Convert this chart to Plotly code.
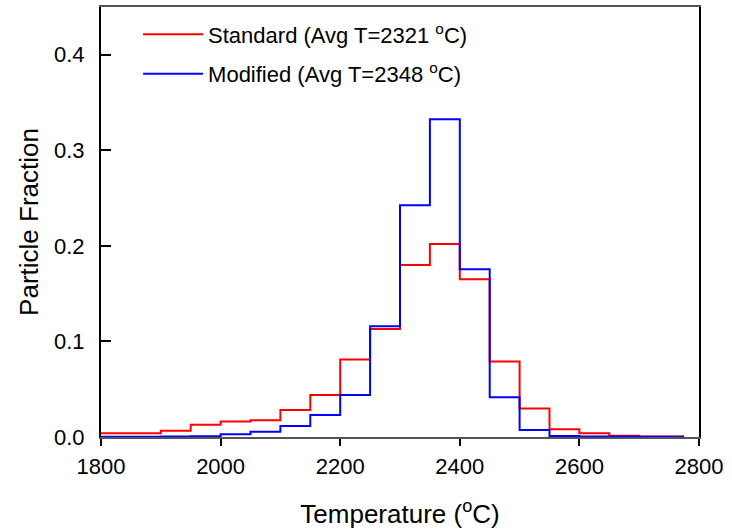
import plotly.graph_objects as go

# Bin centres (°C); steps occur at the 50 °C bin edges
temperature = [1775, 1825, 1875, 1925, 1975, 2025, 2075, 2125, 2175, 2225, 2275,
               2325, 2375, 2425, 2475, 2525, 2575, 2625, 2675, 2725, 2775]
standard = [0.0038, 0.0038, 0.0040, 0.0066, 0.0128, 0.0163, 0.0175, 0.0282, 0.0440, 0.0810, 0.1130,
            0.1800, 0.2020, 0.1650, 0.0790, 0.0297, 0.0080, 0.0040, 0.0012, 0.0006, 0.0004]
modified = [0.0002, 0.0002, 0.0003, 0.0005, 0.0008, 0.0030, 0.0056, 0.0115, 0.0230, 0.0440, 0.1160,
            0.2425, 0.3325, 0.1755, 0.0415, 0.0073, 0.0010, 0.0005, 0.0004, 0.0003, 0.0002]
names = ["Standard (Avg T=2321 <sup>o</sup>C)", "Modified (Avg T=2348 <sup>o</sup>C)"]
colors = ["#FF0000", "#0000FF"]

FONT = "Liberation Sans, Arial, sans-serif"

fig = go.Figure()
for i, (vals, name, col) in enumerate(zip([standard, modified], names, colors)):
    fig.add_trace(go.Scatter(
        x=temperature, y=vals, mode="lines", name=name,
        line=dict(color=col, width=2, shape="hvh"),
        legendgroup=f"g{i}",
    ))

fig.update_layout(
    width=732, height=529,
    margin=dict(l=101, r=33, t=7, b=92),
    paper_bgcolor="white", plot_bgcolor="white",
    font=dict(family=FONT, color="black"),
    showlegend=True,
    legend=dict(x=0.062, y=0.985, xanchor="left", yanchor="top",
                font=dict(size=22, family=FONT), bgcolor="rgba(0,0,0,0)",
                tracegroupgap=8, itemwidth=60),
    xaxis=dict(range=[1800, 2800], tickvals=[1800, 2000, 2200, 2400, 2600, 2800],
               ticks="outside", ticklen=7, tickwidth=1.5, tickcolor="black",
               showline=True, linecolor="#555555", linewidth=2, mirror=True,
               showgrid=False, zeroline=False, ticklabelstandoff=2, automargin=False,
               tickfont=dict(size=22), title=dict(text="Temperature (<sup>o</sup>C)",
                                                  font=dict(size=26), standoff=27)),
    yaxis=dict(range=[0, 0.45], tickvals=[0.0, 0.1, 0.2, 0.3, 0.4],
               ticktext=["0.0", "0.1", "0.2", "0.3", "0.4"],
               ticks="inside", ticklen=10, tickwidth=2, tickcolor="black",
               showline=True, linecolor="black", linewidth=2, mirror=True,
               showgrid=False, zeroline=False, ticklabelstandoff=10, automargin=False,
               tickfont=dict(size=22), title=dict(text="Particle Fraction",
                                                  font=dict(size=26), standoff=8)),
)

fig.write_html("out.html")
